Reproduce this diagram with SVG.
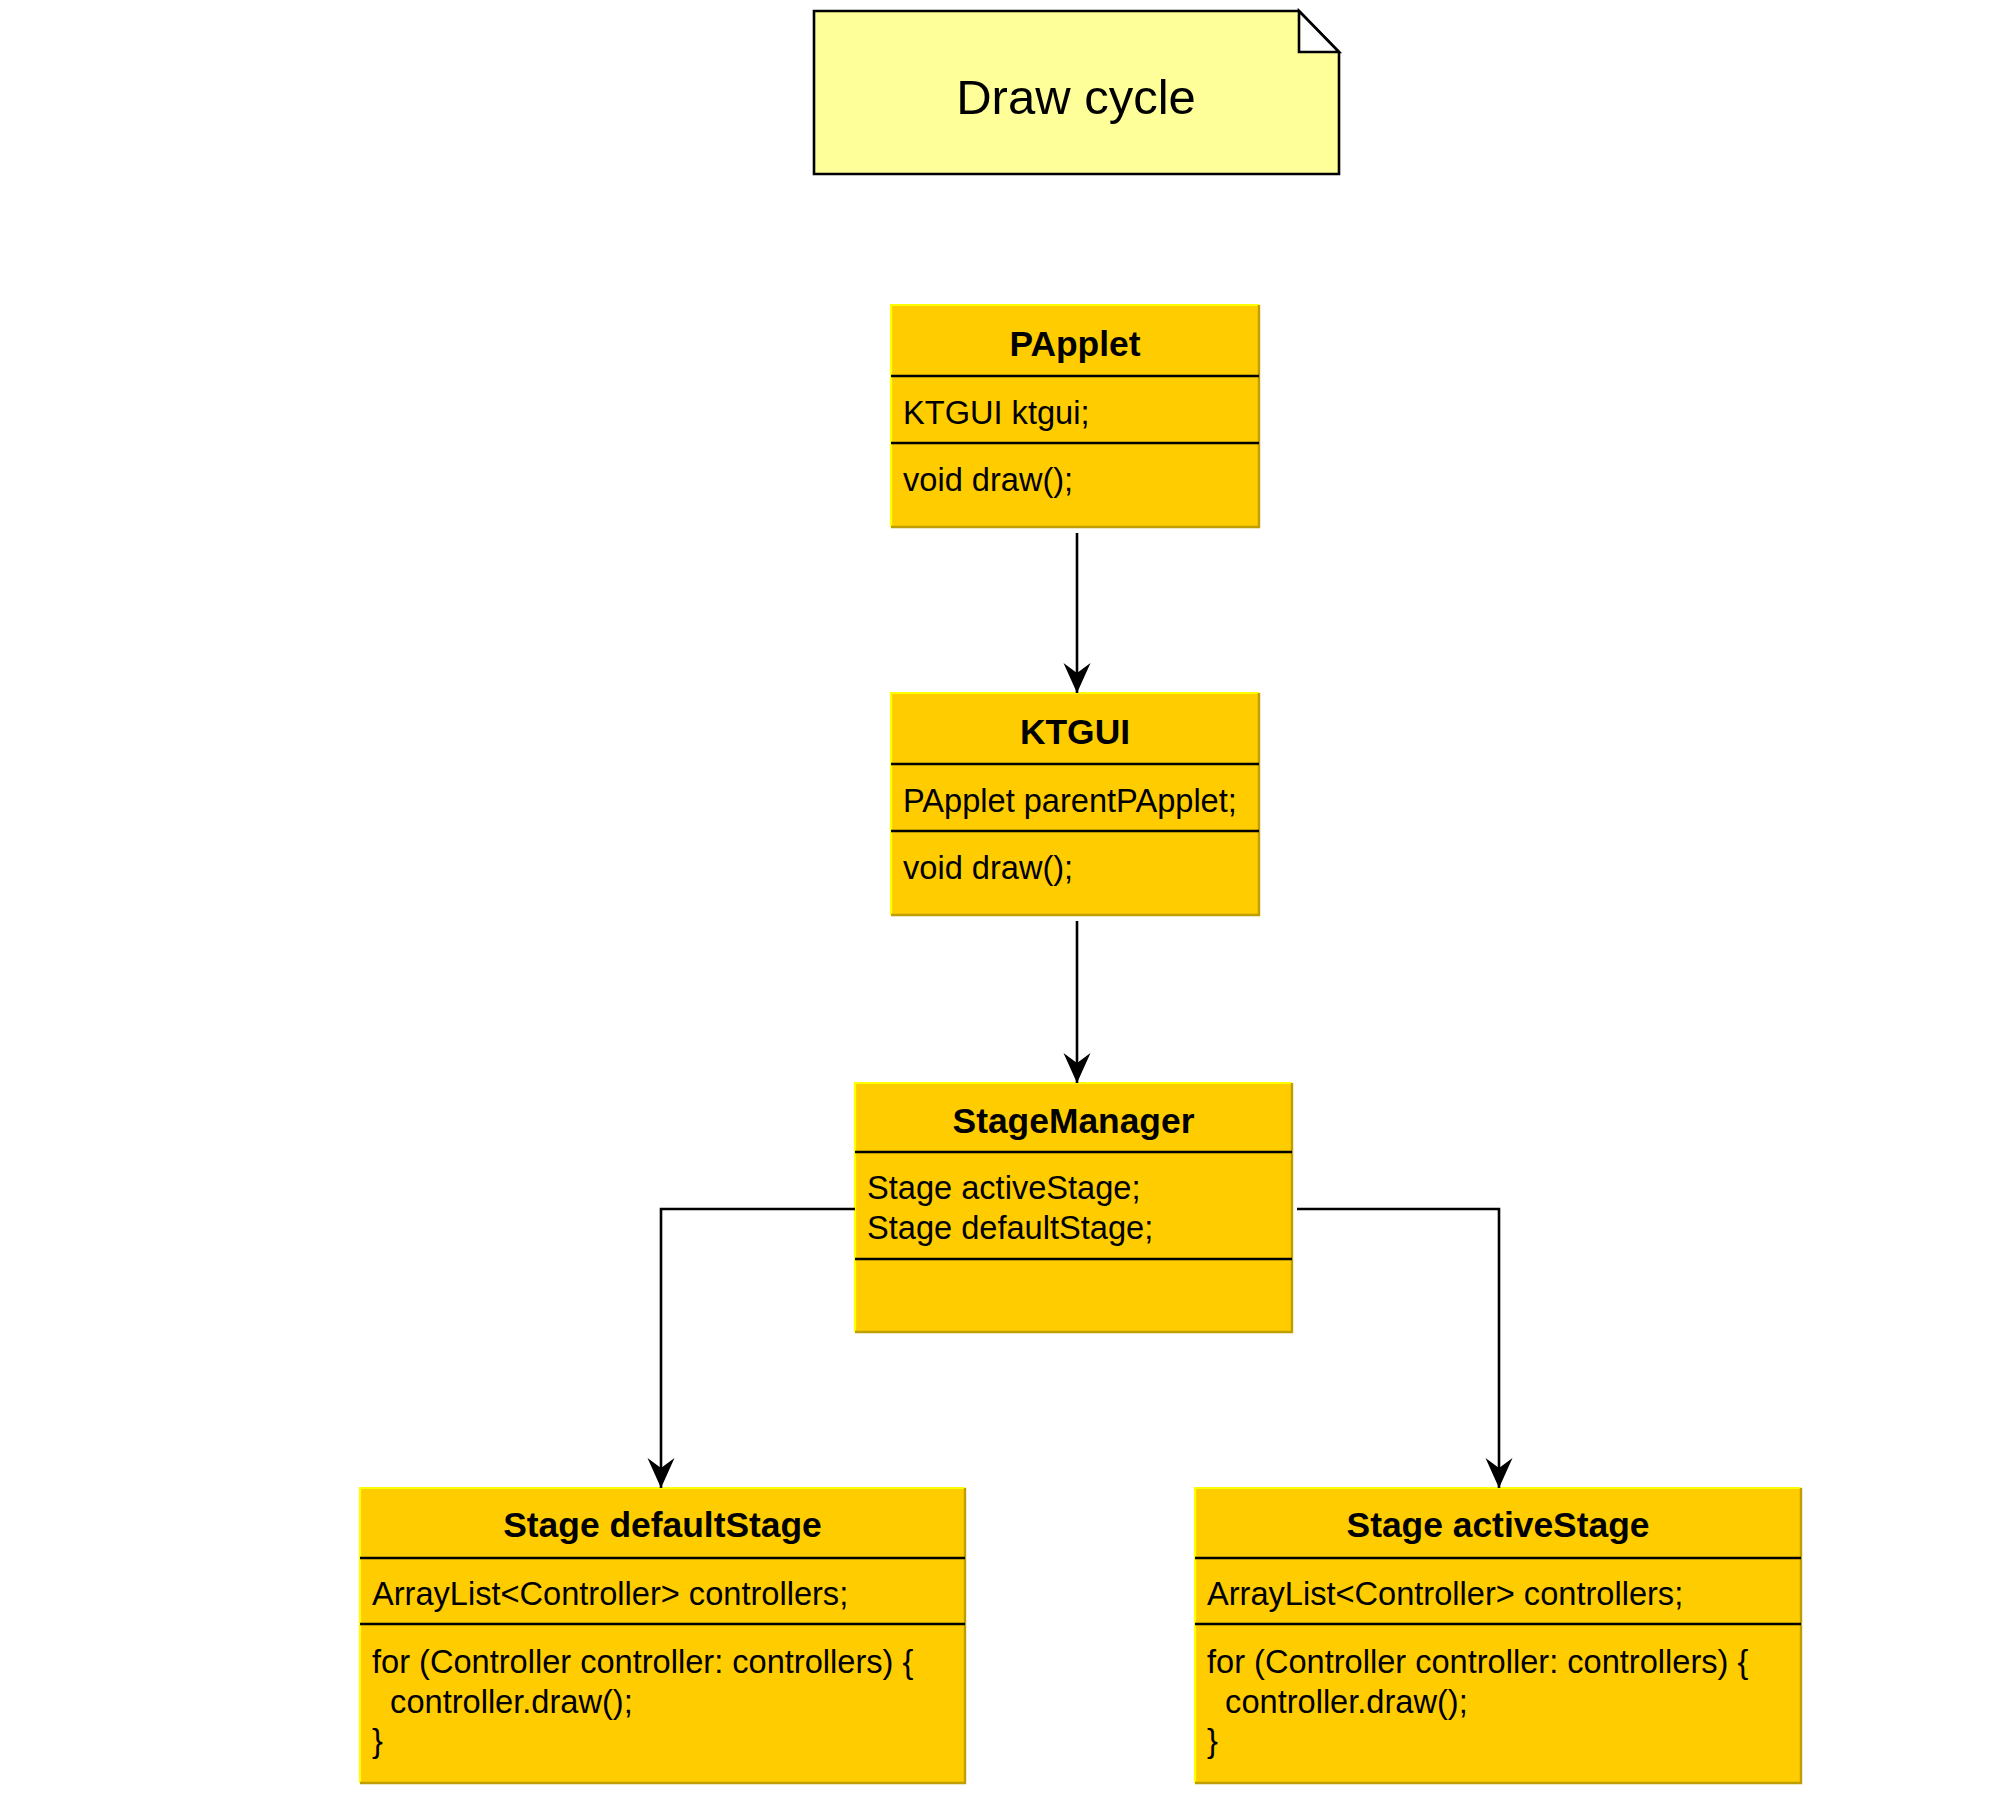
<svg xmlns="http://www.w3.org/2000/svg" width="2002" height="1794" viewBox="0 0 2002 1794">
<style>
  .box { fill: #FFCC00; stroke: none; }
  .hi { fill: none; stroke: #FFFF00; stroke-width: 2.2; }
  .sh { fill: none; stroke: #BF9F00; stroke-width: 2.4; }
  .div { stroke: #000; stroke-width: 2.6; }
  .title { font-family: "Liberation Sans", Arial, sans-serif; font-size: 35.4px; font-weight: bold; fill: #000; text-anchor: middle; }
  .txt { font-family: "Liberation Sans", Arial, sans-serif; font-size: 32.6px; fill: #000; white-space: pre; }
  .note { fill: #FFFF99; stroke: #000; stroke-width: 2.6; }
  .notetxt { font-family: "Liberation Sans", Arial, sans-serif; font-size: 49px; fill: #000; text-anchor: middle; }
  .conn { fill: none; stroke: #000; stroke-width: 2.6; }
</style>
<defs>
  <marker id="arr" markerUnits="userSpaceOnUse" viewBox="0 -15 32 30" markerWidth="32" markerHeight="30" refX="30" refY="0" orient="auto">
    <path d="M0,-13.5 L30,0 L0,13.5 L10,0 Z" fill="#000"/>
  </marker>
</defs>
<rect width="2002" height="1794" fill="#fff"/>

<g id="note-draw-cycle">
  <path class="note" d="M814,11 H1299 L1339,52 V174 H814 Z"/>
  <path d="M1299,11 V52 H1339 Z" fill="#fff" stroke="#000" stroke-width="2.6" stroke-linejoin="miter"/>
  <text class="notetxt" x="1076" y="114">Draw cycle</text>
</g>

<g id="node-papplet">
  <rect class="box" x="891" y="305" width="368" height="222"/>
  <path class="hi" d="M891,527 V305 H1259"/>
  <path class="sh" d="M891,527 H1259 V305"/>
  <line class="div" x1="891" y1="376" x2="1259" y2="376"/>
  <line class="div" x1="891" y1="443" x2="1259" y2="443"/>
  <text class="title" x="1075" y="356">PApplet</text>
  <text class="txt" x="903" y="424">KTGUI ktgui;</text>
  <text class="txt" x="903" y="491">void draw();</text>
</g>

<g id="node-ktgui">
  <rect class="box" x="891" y="693" width="368" height="222"/>
  <path class="hi" d="M891,915 V693 H1259"/>
  <path class="sh" d="M891,915 H1259 V693"/>
  <line class="div" x1="891" y1="764" x2="1259" y2="764"/>
  <line class="div" x1="891" y1="831" x2="1259" y2="831"/>
  <text class="title" x="1075" y="744">KTGUI</text>
  <text class="txt" x="903" y="812">PApplet parentPApplet;</text>
  <text class="txt" x="903" y="879">void draw();</text>
</g>

<g id="node-stagemanager">
  <rect class="box" x="855" y="1083" width="437" height="249"/>
  <path class="hi" d="M855,1332 V1083 H1292"/>
  <path class="sh" d="M855,1332 H1292 V1083"/>
  <line class="div" x1="855" y1="1152" x2="1292" y2="1152"/>
  <line class="div" x1="855" y1="1259" x2="1292" y2="1259"/>
  <text class="title" x="1073.5" y="1133">StageManager</text>
  <text class="txt" x="867" y="1199">Stage activeStage;</text>
  <text class="txt" x="867" y="1239">Stage defaultStage;</text>
</g>

<g id="node-defaultstage">
  <rect class="box" x="360" y="1488" width="605" height="295"/>
  <path class="hi" d="M360,1783 V1488 H965"/>
  <path class="sh" d="M360,1783 H965 V1488"/>
  <line class="div" x1="360" y1="1558" x2="965" y2="1558"/>
  <line class="div" x1="360" y1="1624" x2="965" y2="1624"/>
  <text class="title" x="662.5" y="1537">Stage defaultStage</text>
  <text class="txt" x="372" y="1605">ArrayList&lt;Controller&gt; controllers;</text>
  <text class="txt" x="372" y="1673" xml:space="preserve">for (Controller controller: controllers) {</text>
  <text class="txt" x="372" y="1713" xml:space="preserve">  controller.draw();</text>
  <text class="txt" x="372" y="1752">}</text>
</g>

<g id="node-activestage">
  <rect class="box" x="1195" y="1488" width="606" height="295"/>
  <path class="hi" d="M1195,1783 V1488 H1801"/>
  <path class="sh" d="M1195,1783 H1801 V1488"/>
  <line class="div" x1="1195" y1="1558" x2="1801" y2="1558"/>
  <line class="div" x1="1195" y1="1624" x2="1801" y2="1624"/>
  <text class="title" x="1498" y="1537">Stage activeStage</text>
  <text class="txt" x="1207" y="1605">ArrayList&lt;Controller&gt; controllers;</text>
  <text class="txt" x="1207" y="1673" xml:space="preserve">for (Controller controller: controllers) {</text>
  <text class="txt" x="1207" y="1713" xml:space="preserve">  controller.draw();</text>
  <text class="txt" x="1207" y="1752">}</text>
</g>

<g id="connectors">
  <path class="conn" d="M1077,533 V693" marker-end="url(#arr)"/>
  <path class="conn" d="M1077,921 V1083" marker-end="url(#arr)"/>
  <path class="conn" d="M855,1209 H661 V1488" marker-end="url(#arr)"/>
  <path class="conn" d="M1297,1209 H1499 V1488" marker-end="url(#arr)"/>
</g>
</svg>
